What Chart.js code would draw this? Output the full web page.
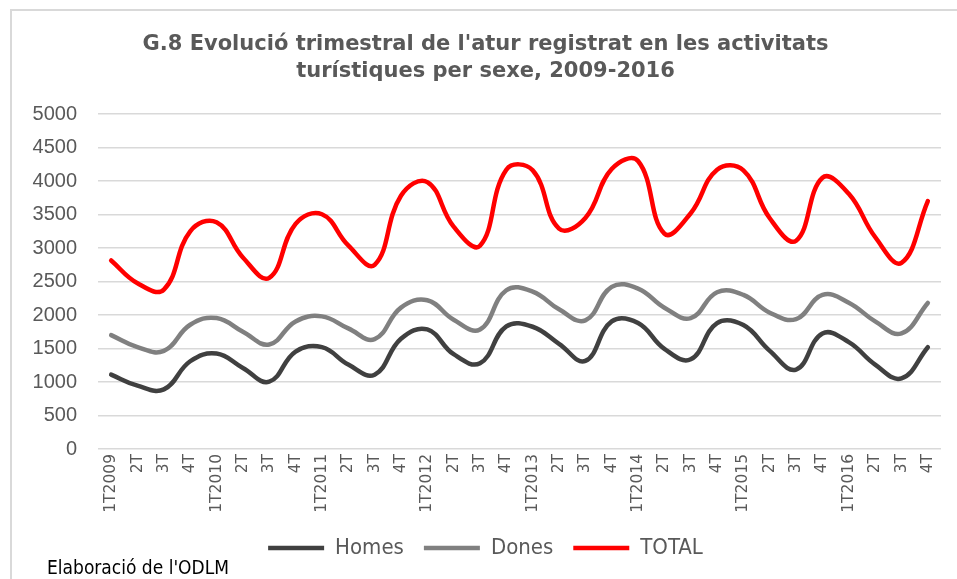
<!DOCTYPE html>
<html>
<head>
<meta charset="utf-8">
<script src="https://cdn.jsdelivr.net/npm/chart.js@4.4.1/dist/chart.umd.min.js"></script>
<style>
  html, body { margin: 0; padding: 0; background: #fff; overflow: hidden; }
  #wrap { position: relative; width: 957px; height: 579px; }
  #frame {
    position: absolute; left: 10px; top: 9px; width: 1000px; height: 620px;
    border-left: 2px solid #d9d9d9; border-top: 2px solid #d9d9d9;
  }
  #chart { position: absolute; left: 0; top: 0; }
  #source {
    position: absolute; left: 47px; top: 558px;
    font: 19px 'Liberation Sans Narrow', 'DejaVu Sans Condensed', Roboto, sans-serif;
    color: #000; line-height: 19px; white-space: nowrap;
  }
</style>
</head>
<body>
<div id="wrap">
  <div id="frame"></div>
  <canvas id="chart" width="957" height="579"></canvas>
  <div id="source">Elaboració de l'ODLM</div>
</div>
<script>
// quarters 2009-2016
const quarters = [
  '1T2009', '2T', '3T', '4T', '1T2010', '2T', '3T', '4T',
  '1T2011', '2T', '3T', '4T', '1T2012', '2T', '3T', '4T',
  '1T2013', '2T', '3T', '4T', '1T2014', '2T', '3T', '4T',
  '1T2015', '2T', '3T', '4T', '1T2016', '2T', '3T', '4T'
];

const homes = [
  1110, 945, 890, 1310, 1425, 1210, 1005, 1455,
  1520, 1260, 1110, 1645, 1785, 1415, 1280, 1830,
  1825, 1570, 1315, 1905, 1880, 1495, 1340, 1880,
  1850, 1465, 1185, 1725, 1595, 1260, 1055, 1520
];

const dones = [
  1700, 1520, 1465, 1855, 1955, 1750, 1560, 1905,
  1980, 1800, 1640, 2110, 2220, 1930, 1785, 2370,
  2350, 2085, 1920, 2420, 2395, 2110, 1955, 2340,
  2300, 2035, 1940, 2300, 2185, 1905, 1725, 2180
];

const total = [
  2815, 2475, 2380, 3250, 3385, 2860, 2555, 3360,
  3505, 3040, 2750, 3780, 3985, 3320, 3035, 4170,
  4160, 3290, 3450, 4180, 4300, 3215, 3520, 4170,
  4160, 3445, 3110, 4050, 3810, 3165, 2780, 3700
];

const yTicks = [0, 500, 1000, 1500, 2000, 2500, 3000, 3500, 4000, 4500, 5000];

const titleLines = [
  "G.8 Evolució trimestral de l'atur registrat en les activitats",
  'turístiques per sexe, 2009-2016'
];

function series(label, data, color) {
  return {
    label: label,
    data: data,
    borderColor: color,
    backgroundColor: color,
    borderWidth: 4.5,
    pointRadius: 0,
    pointHoverRadius: 0,
    tension: 0.42,
    borderCapStyle: 'round',
    fill: false
  };
}

const textGrey = '#595959';

new Chart(document.getElementById('chart'), {
  type: 'line',
  data: {
    labels: quarters,
    datasets: [
      series('Homes', homes, '#404040'),
      series('Dones', dones, '#808080'),
      series('TOTAL', total, '#ff0000')
    ]
  },
  options: {
    responsive: false,
    animation: false,
    devicePixelRatio: 1,
    layout: { padding: { left: 30, right: 16, top: 0, bottom: 10 } },
    plugins: {
      title: {
        display: true,
        text: titleLines,
        color: textGrey,
        font: { family: "'DejaVu Sans', sans-serif", size: 21, weight: 'bold', lineHeight: 1.24 },
        padding: { top: 32, bottom: 30 }
      },
      legend: {
        position: 'bottom',
        labels: {
          usePointStyle: true,
          pointStyle: 'line',
          pointStyleWidth: 56,
          boxHeight: 22,
          padding: 20,
          color: textGrey,
          font: { family: "'Liberation Sans Narrow', 'DejaVu Sans Condensed', Roboto, sans-serif", size: 22 }
        }
      },
      tooltip: { enabled: false }
    },
    scales: {
      x: {
        offset: true,
        grid: { display: false, drawTicks: false },
        border: { display: false },
        ticks: {
          autoSkip: false,
          minRotation: 90,
          maxRotation: 90,
          padding: 5,
          color: textGrey,
          font: { family: "'DejaVu Sans', sans-serif", size: 15.5 }
        },
        afterFit: (scale) => { scale.height = 68; }
      },
      y: {
        min: 0,
        max: 5000,
        afterBuildTicks: (scale) => { scale.ticks = yTicks.map(v => ({ value: v })); },
        grid: { color: '#d9d9d9', lineWidth: 1.5, drawTicks: false },
        border: { display: false },
        ticks: {
          padding: 21,
          color: textGrey,
          callback: (value) => String(value),
          font: { family: "'Liberation Sans', sans-serif", size: 20 }
        },
        afterFit: (scale) => { scale.width = 68; }
      }
    }
  }
});
</script>
</body>
</html>
